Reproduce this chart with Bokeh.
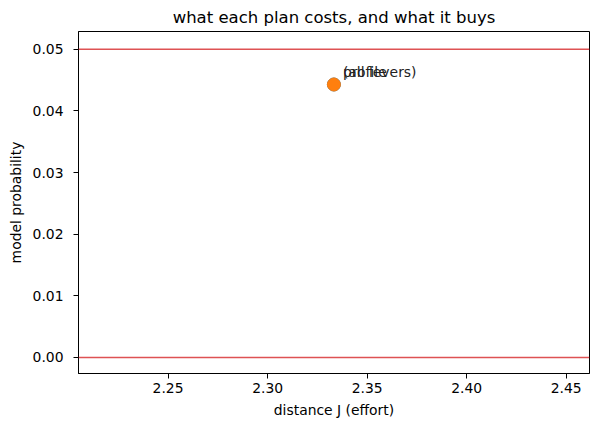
from bokeh.plotting import figure
from bokeh.models import Span, Range1d, FixedTicker, NumeralTickFormatter, ColumnDataSource
from bokeh.core.properties import value
from bokeh.embed import file_html
from bokeh.resources import INLINE

plans = ["profile", "(all levers)"]
distance = [2.3333, 2.3333]
prob = [0.0443, 0.0443]
colors = ["#1f77b4", "#ff7f0e"]
thresholds = [0.0, 0.05]

src = ColumnDataSource(dict(x=distance, y=prob, name=plans, c=colors))

p = figure(width=591, height=423, output_backend="svg", toolbar_location=None,
           title="what each plan costs, and what it buys",
           x_range=Range1d(2.2050, 2.4617), y_range=Range1d(-0.0026, 0.0529),
           min_border_left=78, min_border_right=2, min_border_top=26, min_border_bottom=50)

p.title.align = "center"
p.title.text_font = "DejaVu Sans"
p.title.text_font_size = "16.5px"
p.title.text_font_style = "normal"
p.title.text_color = "black"

for t in thresholds:
    p.add_layout(Span(location=t, dimension="width", line_color="#d62728", line_alpha=0.8, line_width=1.5))

p.scatter("x", "y", source=src, size=13, color="c")
p.text("x", "y", text="name", source=src, x_offset=9, y_offset=-4,
       text_font=value("DejaVu Sans"), text_font_size="13.9px", text_baseline="bottom", text_color="#222222")

p.xgrid.visible = False
p.ygrid.visible = False
p.outline_line_color = "black"
p.outline_line_alpha = 1

p.xaxis.ticker = FixedTicker(ticks=[2.25, 2.30, 2.35, 2.40, 2.45])
p.yaxis.ticker = FixedTicker(ticks=[0.0, 0.01, 0.02, 0.03, 0.04, 0.05])
p.xaxis.formatter = NumeralTickFormatter(format="0.00")
p.yaxis.formatter = NumeralTickFormatter(format="0.00")
p.xaxis.axis_label = "distance J (effort)"
p.yaxis.axis_label = "model probability"

for ax in (p.xaxis, p.yaxis):
    ax.major_label_text_font = "DejaVu Sans"
    ax.major_label_text_font_size = "13.9px"
    ax.major_label_text_color = "black"
    ax.axis_label_text_font = "DejaVu Sans"
    ax.axis_label_text_font_size = "13.9px"
    ax.axis_label_text_font_style = "normal"
    ax.axis_label_text_color = "black"
    ax.axis_line_color = "black"
    ax.major_tick_line_color = "black"
    ax.major_tick_out = 5
    ax.major_tick_in = 0
    ax.minor_tick_line_color = None
    ax.axis_label_standoff = 6

p.yaxis.major_label_standoff = 10
p.xaxis.major_label_standoff = 4

open("out.html", "w").write(file_html(p, INLINE))
